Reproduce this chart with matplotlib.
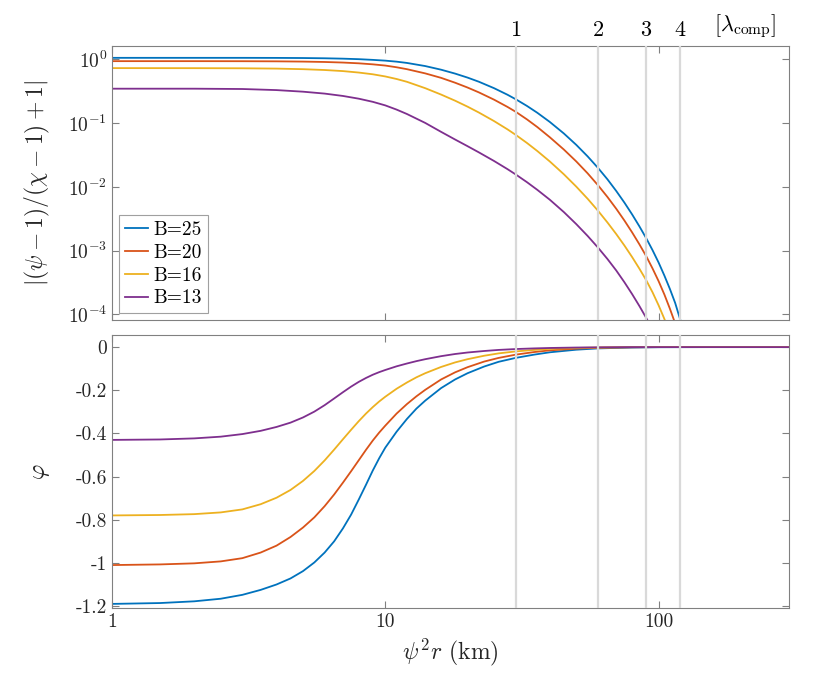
import numpy as np
import matplotlib
matplotlib.use("Agg")
import matplotlib.pyplot as plt
from matplotlib.ticker import NullLocator, FixedLocator, FixedFormatter

plt.rcParams['font.family'] = 'serif'
plt.rcParams['font.serif'] = ['cmr10', 'DejaVu Serif']
plt.rcParams['mathtext.fontset'] = 'cm'
plt.rcParams['axes.formatter.use_mathtext'] = True
plt.rcParams['axes.unicode_minus'] = False

labels = ["B=25", "B=20", "B=16", "B=13"]
colors = ["#0072BD", "#D95319", "#EDB120", "#7E2F8E"]

# top panel: log10 of |(psi-1)/(chi-1)+1|
x_top = [1, 2, 3, 4, 5, 6, 7, 8, 9, 10, 11, 12, 14, 16, 18, 20, 22, 25, 28, 30, 33, 36, 40,
         45, 50, 55, 60, 65, 70, 75, 80, 85, 90, 95, 100, 105, 110, 115, 120, 125]
lg_blue = [0.026, 0.026, 0.026, 0.025, 0.023, 0.019, 0.013, 0.005, -0.006, -0.018, -0.034, -0.054,
           -0.103, -0.160, -0.221, -0.284, -0.349, -0.450, -0.553, -0.623, -0.729, -0.836, -0.980,
           -1.16, -1.34, -1.52, -1.70, -1.88, -2.063, -2.246, -2.43, -2.615, -2.80, -2.99, -3.185,
           -3.39, -3.60, -3.82, -4.08, -4.35]
lg_red = [-0.026, -0.026, -0.027, -0.029, -0.033, -0.039, -0.048, -0.060, -0.076, -0.095, -0.122,
          -0.152, -0.218, -0.288, -0.364, -0.440, -0.516, -0.630, -0.744, -0.820, -0.940, -1.060,
          -1.220, -1.412, -1.600, -1.786, -1.972, -2.157, -2.342, -2.527, -2.712, -2.897, -3.082,
          -3.277, -3.477, -3.687, -3.91, -4.14, -4.4, -4.65]
lg_yel = [-0.135, -0.136, -0.138, -0.143, -0.152, -0.165, -0.182, -0.205, -0.232, -0.266, -0.306,
          -0.350, -0.450, -0.550, -0.646, -0.740, -0.832, -0.966, -1.096, -1.182, -1.310, -1.436,
          -1.600, -1.800, -1.995, -2.185, -2.372, -2.557, -2.739, -2.919, -3.099, -3.279, -3.459,
          -3.651, -3.856, -4.07, -4.3, -4.5, -4.7, -4.9]
lg_pur = [-0.458, -0.458, -0.463, -0.480, -0.505, -0.535, -0.572, -0.615, -0.664, -0.720, -0.786,
          -0.855, -0.995, -1.135, -1.255, -1.360, -1.457, -1.592, -1.720, -1.803, -1.925, -2.045,
          -2.200, -2.393, -2.583, -2.768, -2.950, -3.130, -3.310, -3.495, -3.680, -3.865, -4.05,
          -4.24, -4.43, -4.62, -4.81, -5.0, -5.2, -5.4]

# bottom panel: phi
x_bot = [1, 1.5, 2, 2.5, 3, 3.5, 4, 4.5, 5, 5.5, 6, 6.5, 7, 7.5, 8, 8.5, 9, 9.5, 10, 11, 12, 13,
         14, 16, 18, 20, 23, 26, 30, 35, 40, 50, 60, 80, 100, 150, 300]
phi_blue = [-1.19, -1.186, -1.178, -1.166, -1.148, -1.125, -1.100, -1.072, -1.038, -0.998, -0.952,
            -0.900, -0.840, -0.776, -0.706, -0.638, -0.572, -0.515, -0.466, -0.392, -0.333, -0.285,
            -0.248, -0.190, -0.150, -0.121, -0.090, -0.068, -0.050, -0.035, -0.024, -0.012,
            -0.006, -0.002, -0.0005, 0.0, 0.0]
phi_red = [-1.010, -1.007, -1.002, -0.993, -0.978, -0.952, -0.920, -0.880, -0.836, -0.789, -0.737,
           -0.683, -0.628, -0.575, -0.524, -0.476, -0.433, -0.396, -0.364, -0.308, -0.264, -0.228,
           -0.198, -0.150, -0.117, -0.093, -0.067, -0.050, -0.035, -0.023, -0.015, -0.007,
           -0.003, -0.001, 0.0, 0.0, 0.0]
phi_yel = [-0.780, -0.778, -0.774, -0.766, -0.752, -0.728, -0.698, -0.662, -0.620, -0.574, -0.525,
           -0.475, -0.427, -0.383, -0.343, -0.308, -0.278, -0.252, -0.230, -0.193, -0.164, -0.140,
           -0.121, -0.092, -0.071, -0.056, -0.040, -0.029, -0.020, -0.013, -0.008, -0.004,
           -0.002, 0.0, 0.0, 0.0, 0.0]
phi_pur = [-0.430, -0.428, -0.423, -0.415, -0.403, -0.388, -0.370, -0.350, -0.326, -0.299, -0.269,
           -0.238, -0.209, -0.183, -0.161, -0.143, -0.128, -0.116, -0.106, -0.089, -0.076, -0.065,
           -0.056, -0.042, -0.032, -0.025, -0.018, -0.013, -0.009, -0.006, -0.004, -0.002,
           -0.001, 0.0, 0.0, 0.0, 0.0]

lam_pos = [30, 60, 90, 120]
lam_txt = ["1", "2", "3", "4"]

top_lg = [lg_blue, lg_red, lg_yel, lg_pur]
bot_phi = [phi_blue, phi_red, phi_yel, phi_pur]

fig = plt.figure(figsize=(8.3, 6.84), dpi=100)
ax1 = fig.add_axes([0.1349, 0.5322, 0.8157, 0.4006])
ax2 = fig.add_axes([0.1349, 0.1111, 0.8157, 0.3991])

for i in range(4):
    ax1.plot(x_top, 10 ** np.array(top_lg[i]), color=colors[i], lw=1.3, label=labels[i])
    ax2.plot(x_bot, bot_phi[i], color=colors[i], lw=1.3)

for ax in (ax1, ax2):
    for xv in lam_pos:
        ax.axvline(xv, color="#d9d9d9", lw=1.6, zorder=3)
    ax.set_xscale("log")
    ax.set_xlim(1, 300)
    ax.xaxis.set_major_locator(FixedLocator([1, 10, 100]))
    ax.xaxis.set_minor_locator(NullLocator())
    ax.tick_params(direction="in", top=True, right=True, length=5, width=0.8,
                   colors="#808080", labelcolor="#262626", labelsize=14)
    for s in ax.spines.values():
        s.set_color("#808080")
        s.set_linewidth(0.8)

ax1.set_yscale("log")
ax1.set_ylim(8.2e-5, 1.63)
ax1.yaxis.set_major_locator(FixedLocator([1e-4, 1e-3, 1e-2, 1e-1, 1]))
ax1.yaxis.set_minor_locator(NullLocator())
ax1.set_xticklabels([])
ax1.set_ylabel(r"$|(\psi-1)/(\chi-1)+1|$", fontsize=17, color="#262626")

ax2.set_ylim(-1.209, 0.056)
ax2.yaxis.set_major_locator(FixedLocator([-1.2, -1, -0.8, -0.6, -0.4, -0.2, 0]))
ax2.yaxis.set_major_formatter(FixedFormatter(["-1.2", "-1", "-0.8", "-0.6", "-0.4", "-0.2", "0"]))
ax2.xaxis.set_major_formatter(FixedFormatter(["1", "10", "100"]))
ax2.set_ylabel(r"$\varphi$", fontsize=17, color="#262626")
ax2.set_xlabel(r"$\psi^2r$ (km)", fontsize=17, color="#262626")

ax1.yaxis.set_label_coords(-0.088, 0.5)
ax2.yaxis.set_label_coords(-0.088, 0.5)

for xv, t in zip(lam_pos, lam_txt):
    ax1.text(xv, 1.02, t, transform=ax1.get_xaxis_transform(), ha="center", va="bottom",
             fontsize=16, color="black")
ax1.text(0.935, 1.02, r"$[\lambda_{\rm comp}]$", transform=ax1.transAxes, ha="center",
         va="bottom", fontsize=16, color="black")

leg = ax1.legend(loc="lower left", fontsize=14, handlelength=1.2, handletextpad=0.3,
                 borderpad=0.3, labelspacing=0.25, fancybox=False, framealpha=1,
                 borderaxespad=0.35)
leg.get_frame().set_edgecolor("#a0a0a0")
leg.get_frame().set_linewidth(0.8)

fig.savefig("out.png", dpi=100)
